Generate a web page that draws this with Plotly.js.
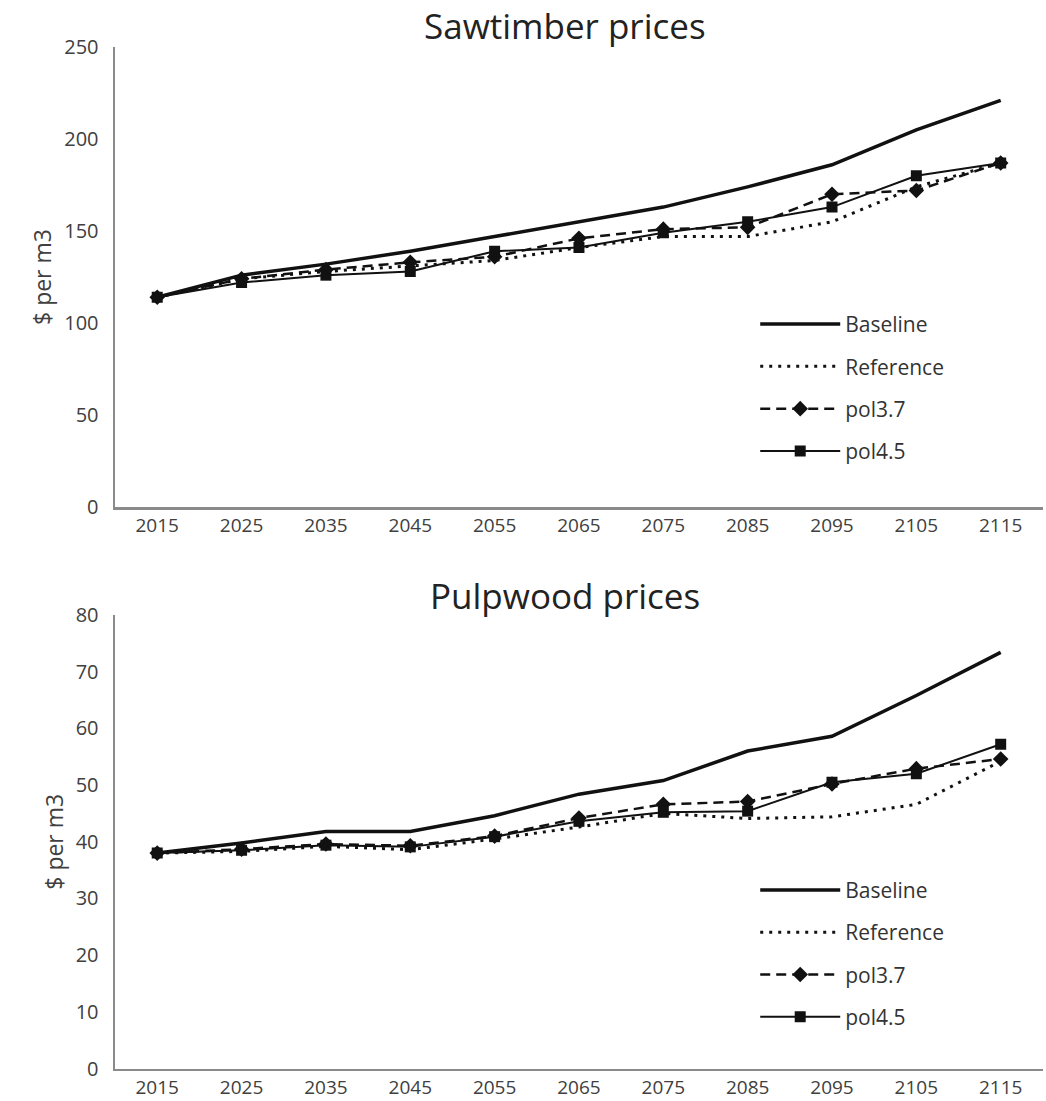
<!DOCTYPE html>
<html>
<head>
<meta charset="utf-8">
<script src="https://cdn.plot.ly/plotly-3.0.1.min.js"></script>
<style>html,body{margin:0;padding:0;background:#fff;}#chart{width:1046px;height:1101px;}</style>
</head>
<body>
<div id="chart"></div>
<script>
// ---- data ----
const years = ["2015","2025","2035","2045","2055","2065","2075","2085","2095","2105","2115"];
const seriesNames = ["Baseline","Reference","pol3.7","pol4.5"];

const sawBaseline  = [114, 126, 132, 139, 147, 155, 163, 174, 186, 205, 221];
const sawReference = [114, 124, 128, 131, 134, 141, 147, 147, 155, 174, 187];
const sawPol37     = [114, 124, 129, 133, 136, 146, 151, 152, 170, 172, 187];
const sawPol45     = [114, 122, 126, 128, 139, 141, 149, 155, 163, 180, 187];

const pulpBaseline  = [38, 39.8, 41.8, 41.8, 44.6, 48.4, 50.8, 56, 58.6, 65.8, 73.4];
const pulpReference = [38, 38.3, 39.2, 38.6, 40.5, 42.6, 45, 44.1, 44.4, 46.6, 54.2];
const pulpPol37     = [38, 38.7, 39.6, 39.3, 41, 44.2, 46.6, 47.1, 50.2, 52.9, 54.6];
const pulpPol45     = [38, 38.5, 39.4, 39.1, 40.9, 43.6, 45.2, 45.4, 50.5, 52, 57.2];

const titles = ["Sawtimber prices","Pulpwood prices"];
const yTitle = "$ per m3";

// ---- styles ----
const styles = [
  {line:{color:"#111", width:3.5, dash:"solid"}, mode:"lines"},
  {line:{color:"#111", width:3, dash:"3px,6px"}, mode:"lines"},
  {line:{color:"#111", width:2.5, dash:"10px,6px"}, mode:"lines+markers", marker:{symbol:"diamond", size:12, color:"#111"}},
  {line:{color:"#111", width:2, dash:"solid"}, mode:"lines+markers", marker:{symbol:"square", size:11, color:"#111"}}
];

function mk(vals, i, xa, ya, leg) {
  const t = {x: years, y: vals, name: seriesNames[i], xaxis: xa, yaxis: ya,
    type: "scatter", mode: styles[i].mode, line: styles[i].line,
    legend: leg, legendgroup: leg + i, hoverinfo: "x+y+name"};
  if (styles[i].marker) t.marker = styles[i].marker;
  return t;
}

const topSets = [sawBaseline, sawReference, sawPol37, sawPol45];
const botSets = [pulpBaseline, pulpReference, pulpPol37, pulpPol45];
const data = [];
topSets.forEach((v, i) => data.push(mk(v, i, "x", "y", "legend")));
botSets.forEach((v, i) => data.push(mk(v, i, "x2", "y2", "legend2")));

const fontFam = "Open Sans, Lato, sans-serif";
const tickFont = {family: fontFam, size: 20, color: "#404040"};
const axisCommon = {
  showgrid: false, zeroline: false, showline: true, linecolor: "#8a8a8a", linewidth: 2.5,
  ticks: "", tickfont: tickFont, automargin: false, fixedrange: true
};
const xCommon = Object.assign({}, axisCommon, {domain: [0.11, 0.997], type: "category", range: [-0.5, 10.5],
  ticklabelstandoff: 0, tickfont: {family: fontFam, size: 19, color: "#404040"}});
const yTitleObj = {text: yTitle, font: {family: fontFam, size: 23, color: "#404040"}, standoff: 6};
const legendCommon = {
  xanchor: "left", yanchor: "top", traceorder: "grouped", tracegroupgap: 12,
  itemwidth: 80, font: {family: fontFam, size: 21, color: "#333"}, bgcolor: "rgba(0,0,0,0)"
};

const layout = {
  width: 1046, height: 1101,
  margin: {l: 0, r: 0, t: 0, b: 0},
  paper_bgcolor: "#fff", plot_bgcolor: "#fff",
  showlegend: true,
  xaxis:  Object.assign({}, xCommon, {anchor: "y"}),
  yaxis:  Object.assign({}, axisCommon, {domain: [0.5395, 0.9573], anchor: "x", range: [0, 250], dtick: 50, tick0: 0,
           ticklabelstandoff: 10, title: yTitleObj}),
  xaxis2: Object.assign({}, xCommon, {anchor: "y2"}),
  yaxis2: Object.assign({}, axisCommon, {domain: [0.0295, 0.4414], anchor: "x2", range: [0, 80], dtick: 10, tick0: 0,
           ticklabelstandoff: 10, title: yTitleObj}),
  legend:  Object.assign({}, legendCommon, {x: 0.722, y: 0.724}),
  legend2: Object.assign({}, legendCommon, {x: 0.722, y: 0.210}),
  annotations: [
    {text: titles[0], xref: "paper", yref: "paper", x: 0.54, y: 0.977, xanchor: "center", yanchor: "middle",
     showarrow: false, font: {family: fontFam, size: 35, color: "#222"}},
    {text: titles[1], xref: "paper", yref: "paper", x: 0.54, y: 0.459, xanchor: "center", yanchor: "middle",
     showarrow: false, font: {family: fontFam, size: 35, color: "#222"}}
  ]
};

Plotly.newPlot("chart", data, layout, {displayModeBar: false, staticPlot: true});
</script>
</body>
</html>
